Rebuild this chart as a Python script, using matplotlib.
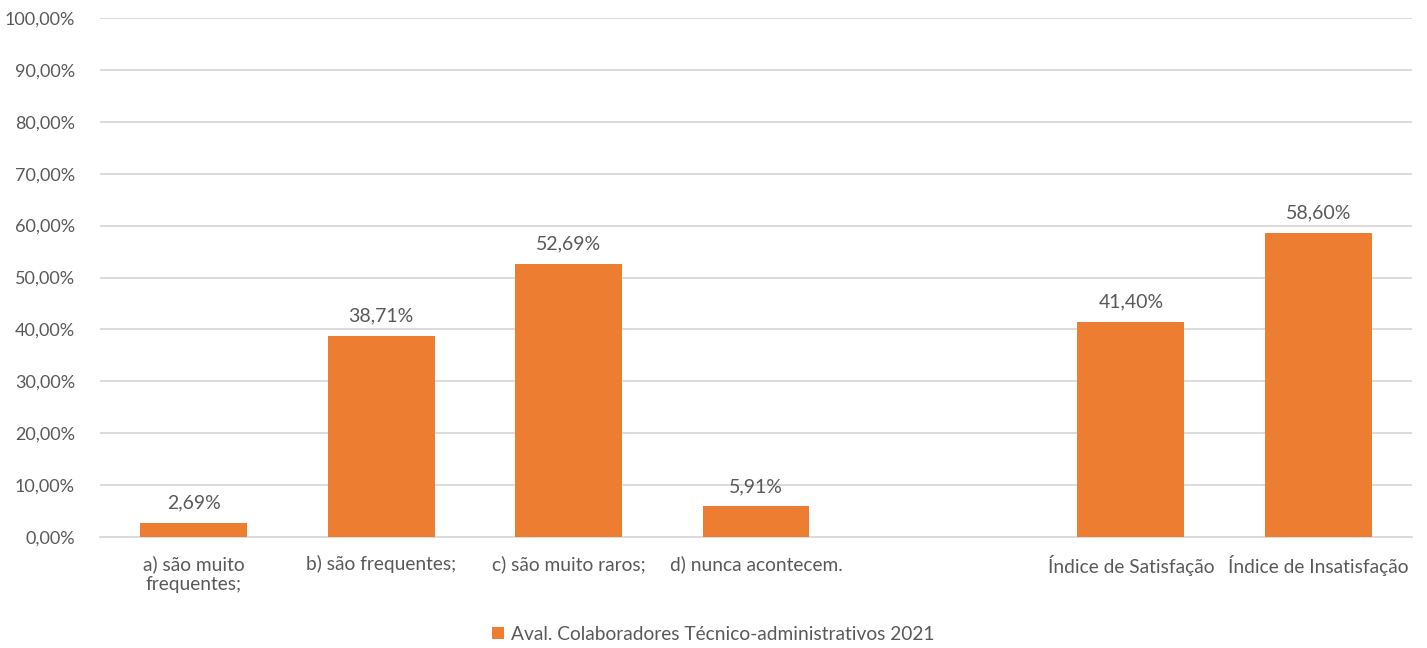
import numpy as np
import matplotlib
matplotlib.use("Agg")
import matplotlib.pyplot as plt
from matplotlib.ticker import FuncFormatter

plt.rcParams['font.family'] = ['Lato', 'DejaVu Sans']

# dados
categorias = ["a) são muito\nfrequentes;", "b) são frequentes;", "c) são muito raros;",
              "d) nunca acontecem.", "", "Índice de Satisfação", "Índice de Insatisfação"]
valores = [2.69, 38.71, 52.69, 5.91, None, 41.40, 58.60]
serie = "Aval. Colaboradores Técnico-administrativos 2021"

laranja = "#ED7D31"
cinza_txt = "#595959"

fig = plt.figure(figsize=(14.27, 6.48), dpi=100)
ax = fig.add_axes([100/1427, 1-537/648, 1312/1427, 519/648])

x = np.arange(len(categorias))
alturas = [v if v is not None else 0 for v in valores]
barras = ax.bar(x, alturas, width=0.57, color=laranja, label=serie, zorder=3)

for xi, v in zip(x, valores):
    if v is None:
        continue
    ax.text(xi, v + 2.2, f"{v:.2f}%".replace(".", ","), ha="center", va="bottom",
            fontsize=14, color=cinza_txt)

ax.set_xlim(-0.5, len(categorias) - 0.5)
ax.set_ylim(0, 100)
ax.set_yticks(np.arange(0, 101, 10))
ax.yaxis.set_major_formatter(FuncFormatter(lambda v, p: f"{v:.2f}%".replace(".", ",")))
ax.set_xticks(x)
ax.set_xticklabels(categorias, fontsize=13.8, color=cinza_txt, va="top", linespacing=1.25)
ax.tick_params(axis="y", labelsize=13, labelcolor=cinza_txt, length=0, pad=18)
ax.tick_params(axis="x", length=0, pad=13)

ax.grid(axis="y", color="#D9D9D9", linewidth=1.3, zorder=0)
for s in ["top", "right", "left"]:
    ax.spines[s].set_visible(False)
ax.spines["bottom"].set_color("#D9D9D9")
ax.spines["bottom"].set_linewidth(1.3)

fig.legend(handles=[barras], labels=[serie], loc="center", bbox_to_anchor=(0.5, 1-634/648),
           frameon=False, fontsize=13.8, labelcolor=cinza_txt, handlelength=0.6,
           handleheight=0.6, handletextpad=0.4)

fig.savefig("out.png", dpi=100, facecolor="white")
